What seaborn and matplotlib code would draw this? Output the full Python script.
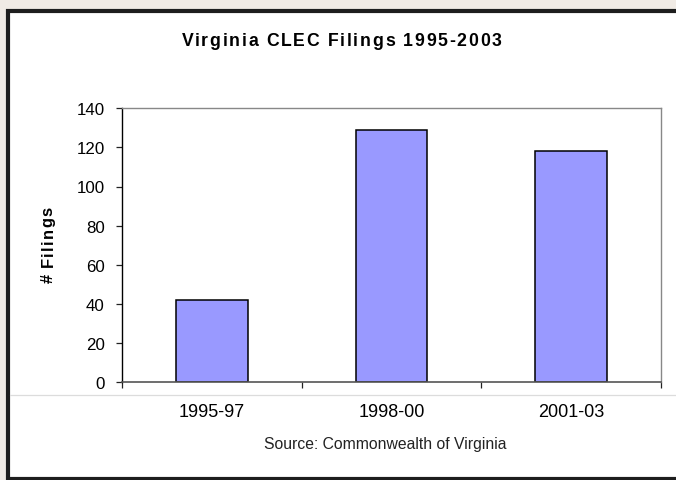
import matplotlib
matplotlib.use("Agg")
import matplotlib.pyplot as plt
from matplotlib.patches import Rectangle
from matplotlib.lines import Line2D
from matplotlib.font_manager import FontProperties
import seaborn as sns
import pandas as pd

# Data
periods = ["1995-97", "1998-00", "2001-03"]
filings = [42, 129, 118]
y_ticks = [0, 20, 40, 60, 80, 100, 120, 140]

title_text = "Virginia CLEC Filings 1995-2003"
y_label = "# Filings"
source_text = "Source: Commonwealth of Virginia"

sns.set_style("white")
FAMILY = ["Liberation Sans", "DejaVu Sans"]
plt.rcParams["font.family"] = FAMILY

W, H = 676, 481
fig = plt.figure(figsize=(W / 100, H / 100), dpi=100, facecolor="#f0ebe5")


def px(x, y):
    """Pixel position (from top-left) to figure fraction."""
    return x / W, 1 - y / H


def spaced_text(fig, s, x0, y0, size, weight="normal", tracking=0.0,
                vertical=False, color="black"):
    """Draw a string glyph by glyph with extra letter spacing (in pixels).

    Horizontal text starts at pixel x0 on baseline y0; vertical text reads
    bottom-to-top from y0 with its baseline at x0.
    """
    renderer = fig.canvas.get_renderer()
    prop = FontProperties(family=FAMILY, size=size, weight=weight)
    for i, ch in enumerate(s):
        if ch == " ":
            continue
        adv = renderer.get_text_width_height_descent(s[:i], prop, ismath=False)[0] if i else 0
        off = adv + i * tracking
        if vertical:
            fx, fy = px(x0, y0 - off)
            rot = 90
        else:
            fx, fy = px(x0 + off, y0)
            rot = 0
        fig.text(fx, fy, ch, fontproperties=prop, rotation=rot,
                 rotation_mode="anchor", ha="left", va="baseline", color=color)


# White panel with a thick dark frame (right edge runs past the canvas)
fig.patches.append(Rectangle(px(8, 479.5), 720 / W, (479.5 - 12) / H,
                             transform=fig.transFigure, facecolor="white",
                             edgecolor="#1e1e1e", linewidth=3.0, zorder=-2))
fig.lines.append(Line2D([10 / W, 1.0], [1 - 396 / H, 1 - 396 / H],
                        transform=fig.transFigure, color="#dcdcdc",
                        linewidth=0.9, zorder=-1))

ax = fig.add_axes([122 / W, 98 / H, (661 - 122) / W, (383 - 109.3) / H])
ax.set_facecolor("white")

df = pd.DataFrame({"period": periods, "filings": filings})
sns.barplot(data=df, x="period", y="filings", ax=ax, color="#9999FF",
            saturation=1, width=0.4, edgecolor="black", linewidth=1.1)

ax.set_xlim(-0.5, len(periods) - 0.5)
ax.set_ylim(0, 140)
ax.set_yticks(y_ticks)
ax.set_yticklabels([str(t) for t in y_ticks], fontsize=12.2, color="black")
ax.tick_params(axis="y", direction="out", length=4.5, width=0.9, color="#222222",
               pad=8, left=True)

# Major ticks at category boundaries, labels on unmarked minor ticks
ax.set_xticks([i - 0.5 for i in range(len(periods) + 1)])
ax.set_xticklabels([])
ax.set_xticks(range(len(periods)), minor=True)
ax.set_xticklabels(periods, minor=True, fontsize=13, color="black")
ax.tick_params(axis="x", which="major", direction="out", length=4, width=0.9,
               color="#222222", bottom=True)
ax.tick_params(axis="x", which="minor", length=0, pad=15)

ax.set_xlabel("")
ax.set_ylabel("")

for side in ["top", "right"]:
    ax.spines[side].set_visible(True)
    ax.spines[side].set_color("#888888")
    ax.spines[side].set_linewidth(1.0)
ax.spines["left"].set_color("black")
ax.spines["left"].set_linewidth(1.0)
ax.spines["bottom"].set_color("#555555")
ax.spines["bottom"].set_linewidth(1.2)

spaced_text(fig, title_text, 181.5, 46.5, size=12.7, weight="bold", tracking=1.7)
spaced_text(fig, y_label, 52.5, 283.5, size=11.9, weight="bold", tracking=1.3,
            vertical=True)
fx, fy = px(385, 444)
fig.text(fx, fy, source_text, ha="center", va="center", fontsize=11.3,
         color="#222222")

fig.savefig("out.png", dpi=100, facecolor=fig.get_facecolor())
